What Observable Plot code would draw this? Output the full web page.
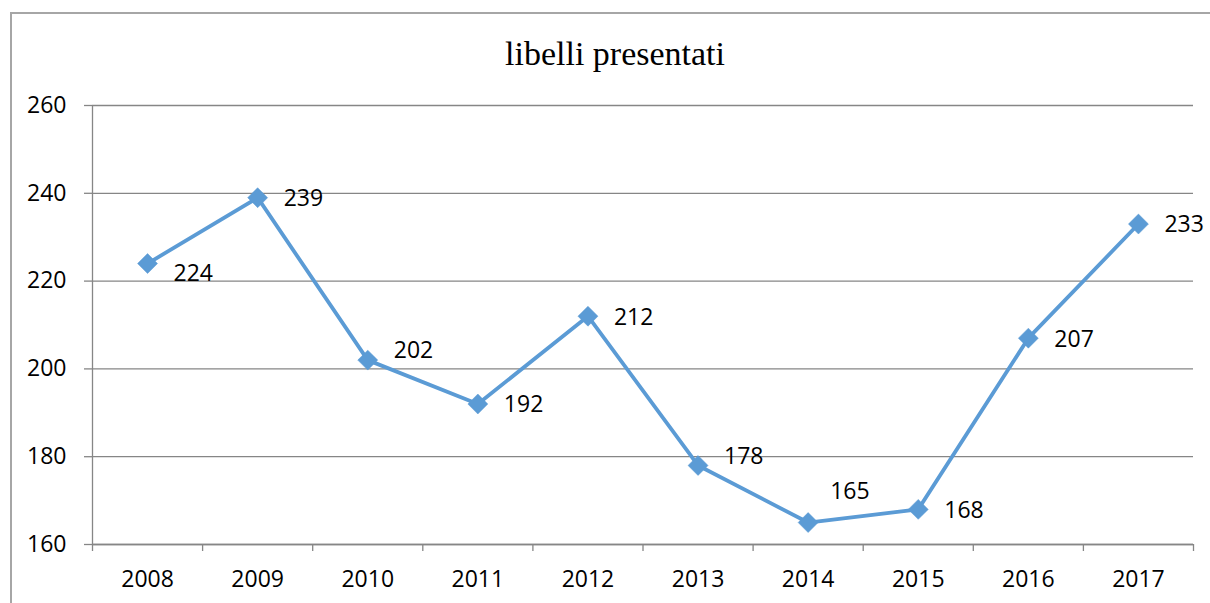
<!DOCTYPE html>
<html>
<head>
<meta charset="utf-8">
<script src="https://cdn.jsdelivr.net/npm/d3@7"></script>
<script src="https://cdn.jsdelivr.net/npm/@observablehq/plot@0.6"></script>
<style>
  html, body { margin: 0; padding: 0; background: #fff; }
  #wrap { position: relative; width: 1210px; height: 603px; overflow: hidden; }
  #border { position: absolute; left: 10px; top: 12px; width: 1400px; height: 800px;
            border-left: 2px solid #a6a6a6; border-top: 2px solid #a6a6a6; pointer-events: none; }
  svg { display: block; }
</style>
</head>
<body>
<div id="wrap"><div id="border"></div></div>
<script>
const title = "libelli presentati";
const years = [2008, 2009, 2010, 2011, 2012, 2013, 2014, 2015, 2016, 2017];
const values = [224, 239, 202, 192, 212, 178, 165, 168, 207, 233];
const labelPlacement = ["belowRight", "right", "aboveRight", "right", "right", "aboveRight", "top", "right", "right", "right"];
const yTicks = [160, 180, 200, 220, 240, 260];

const data = years.map((y, i) => ({year: y, value: values[i], place: labelPlacement[i]}));
const boundaries = [years[0] - 0.5, ...years.map(y => y + 0.5)];

const blue = "#5B9BD5";
const grid = "#868686";
const font = "'Open Sans', sans-serif";

const labelMark = (place, opts) => Plot.text(data.filter(d => d.place === place), {
  x: "year", y: "value", text: d => String(d.value),
  textAnchor: "start", fontSize: 23, fill: "#000", ...opts
});

const chart = Plot.plot({
  width: 1210,
  height: 603,
  marginLeft: 92,
  marginRight: 17,
  marginTop: 105,
  marginBottom: 59,
  style: {fontFamily: font, fontSize: "23px", color: "#000", background: "transparent"},
  x: {type: "linear", domain: [boundaries[0], boundaries[boundaries.length - 1]]},
  y: {domain: [160, 260]},
  marks: [
    Plot.gridY(yTicks, {stroke: grid, strokeOpacity: 1, strokeWidth: 1.3}),
    Plot.axisY(yTicks, {tickSize: 8, tickPadding: 18, stroke: grid, strokeWidth: 1.3, fontSize: 23, label: null}),
    Plot.ruleX([boundaries[0]], {stroke: grid, strokeWidth: 1.3}),
    Plot.ruleY([160], {stroke: grid, strokeWidth: 1.3}),
    Plot.axisX(boundaries, {tickSize: 7, stroke: grid, strokeWidth: 1.3, tickFormat: () => "", label: null}),
    Plot.axisX(years, {tickSize: 0, tickPadding: 26, tickFormat: d => String(d), fontSize: 23, label: null}),
    Plot.line(data, {x: "year", y: "value", stroke: blue, strokeWidth: 3.8}),
    Plot.dot(data, {x: "year", y: "value", symbol: "diamond2", r: 9, fill: blue, stroke: blue, strokeWidth: 0.5}),
    labelMark("right", {dx: 26, dy: 1}),
    labelMark("belowRight", {dx: 26, dy: 10}),
    labelMark("aboveRight", {dx: 26, dy: -9}),
    labelMark("top", {dx: 22, dy: -31}),
    Plot.text([title], {frameAnchor: "top", text: d => d, dx: -28, dy: -41, lineAnchor: "bottom",
      fontFamily: "'Liberation Serif', 'Times New Roman', serif", fontSize: 34, fill: "#000"})
  ]
});
document.getElementById("wrap").prepend(chart);
</script>
</body>
</html>
